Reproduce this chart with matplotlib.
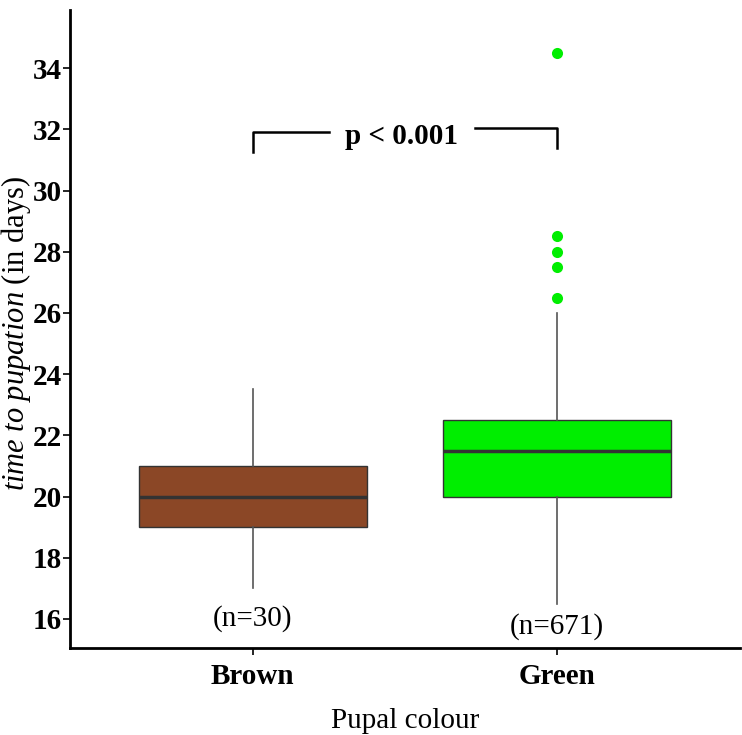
import matplotlib
matplotlib.use('Agg')
import matplotlib.pyplot as plt

categories = ['Brown', 'Green']
n_labels = ['(n=30)', '(n=671)']
n_label_y = [16.0, 15.75]
whislo = [17.0, 16.5]
q1 = [19.0, 20.0]
med = [20.0, 21.5]
q3 = [21.0, 22.5]
whishi = [23.5, 26.0]
fliers = [[], [26.5, 27.5, 28.0, 28.5, 34.5]]
box_colors = ['#8B4726', '#00EE00']
yticks = [16, 18, 20, 22, 24, 26, 28, 30, 32, 34]

plt.rcParams['font.family'] = ['Liberation Serif', 'DejaVu Serif']
plt.rcParams['mathtext.fontset'] = 'custom'
plt.rcParams['mathtext.rm'] = 'Liberation Serif'
plt.rcParams['mathtext.it'] = 'Liberation Serif:italic'

fig = plt.figure(figsize=(7.42, 7.35), dpi=100)
ax = fig.add_axes([70/742, 87/735, 670/742, 638/735])

stats = []
for i in range(len(categories)):
    stats.append({'whislo': whislo[i], 'q1': q1[i], 'med': med[i], 'q3': q3[i],
                  'whishi': whishi[i], 'fliers': fliers[i], 'label': categories[i]})

bp = ax.bxp(stats, positions=[1, 2], widths=0.75, patch_artist=True, showcaps=False,
            boxprops=dict(edgecolor='#333333', linewidth=1.0),
            medianprops=dict(color='#333333', linewidth=2.5),
            whiskerprops=dict(color='#555555', linewidth=1.2),
            flierprops=dict(marker='o', markersize=8, markeredgecolor='none'))
for patch, c in zip(bp['boxes'], box_colors):
    patch.set_facecolor(c)
for fl, c in zip(bp['fliers'], box_colors):
    fl.set_markerfacecolor(c)

for i, lab in enumerate(n_labels):
    ax.text(i + 1, n_label_y[i], lab, ha='center', va='center', fontsize=21)

# significance bracket
ax.plot([1, 1, 1.25], [31.25, 31.9, 31.9], color='black', lw=1.8)
ax.plot([1.73, 2.0, 2.0], [32.03, 32.03, 31.4], color='black', lw=1.8)
ax.text(1.49, 31.75, 'p < 0.001', ha='center', va='center', fontsize=21, fontweight='bold')

ax.set_xlim(0.4, 2.6)
ax.set_ylim(15.05, 35.9)
ax.set_yticks(yticks)
ax.set_xticks([1, 2])
ax.set_xticklabels(categories, fontsize=21, fontweight='bold')
for t in ax.get_yticklabels():
    t.set_fontsize(21)
    t.set_fontweight('bold')

ax.spines['right'].set_color('none')
ax.spines['top'].set_color('none')
ax.spines['left'].set_linewidth(2)
ax.spines['bottom'].set_linewidth(2)
ax.tick_params(axis='both', length=5, width=1.2, color='black')
ax.tick_params(axis='x', pad=6)
ax.tick_params(axis='y', pad=1)

ax.set_xlabel('Pupal colour', fontsize=21, labelpad=13)
fig.text(16/742, 1 - 333/735, r'$\mathit{time\ to\ pupation}$ (in days)', fontsize=22,
         rotation=90, ha='center', va='center')

fig.savefig('out.png', dpi=100)
